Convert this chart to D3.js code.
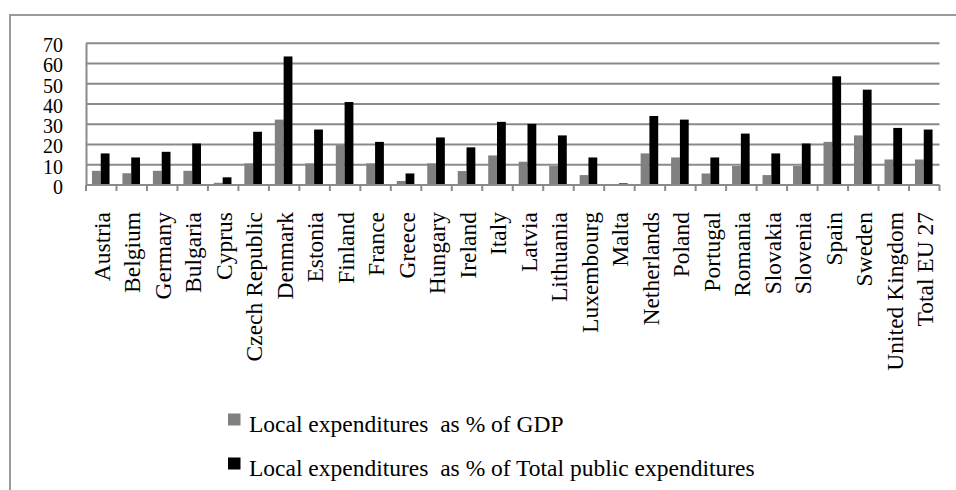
<!DOCTYPE html>
<html>
<head>
<meta charset="utf-8">
<script src="https://cdn.jsdelivr.net/npm/d3@7"></script>
<style>
  html, body { margin: 0; padding: 0; background: #fff; }
  svg { display: block; }
</style>
</head>
<body>
<svg id="chart" width="956" height="490"></svg>
<script>
// Local government spending in the EU member states
const countries = ["Austria", "Belgium", "Germany", "Bulgaria", "Cyprus", "Czech Republic", "Denmark",
  "Estonia", "Finland", "France", "Greece", "Hungary", "Ireland", "Italy", "Latvia", "Lithuania",
  "Luxembourg", "Malta", "Netherlands", "Poland", "Portugal", "Romania", "Slovakia", "Slovenia",
  "Spain", "Sweden", "United Kingdom", "Total EU 27"];
const pctGDP = [7, 5.8, 7, 7, 1.1, 10.7, 32.3, 10.7, 19.7, 10.7, 2, 10.7, 6.9, 14.6, 11.5, 9.4,
  4.9, 0.2, 15.6, 13.6, 5.7, 9.4, 4.9, 9.4, 21.3, 24.5, 12.6, 12.6];
const pctPublic = [15.6, 13.6, 16.4, 20.5, 3.8, 26.3, 63.5, 27.4, 41, 21.3, 5.7, 23.5, 18.6, 31.2,
  30.2, 24.5, 13.6, 0.8, 34.1, 32.3, 13.6, 25.4, 15.6, 20.5, 53.7, 47.1, 28.2, 27.4];
const yTicks = [0, 10, 20, 30, 40, 50, 60, 70];
const seriesNames = ["Local expenditures  as % of GDP", "Local expenditures  as % of Total public expenditures"];
const seriesColors = ["#808080", "#000000"];

const FONT = "'Liberation Serif', 'Times New Roman', serif";
const svg = d3.select("#chart");
const plot = { left: 86, right: 939.5, top: 43.3, bottom: 185 };

// outer chart frame
svg.append("rect")
  .attr("x", 10).attr("y", 15)
  .attr("width", 960).attr("height", 500)
  .attr("fill", "none").attr("stroke", "#9a9a9a").attr("stroke-width", 2);

const x = d3.scaleBand().domain(countries).range([plot.left, plot.right]).paddingInner(0).paddingOuter(0);
const y = d3.scaleLinear().domain([0, 70]).range([plot.bottom, plot.top]);
const barW = 8.8;

// horizontal gridlines
svg.append("g").selectAll("line").data(yTicks.filter(d => d > 0)).join("line")
  .attr("x1", plot.left).attr("x2", plot.right)
  .attr("y1", d => y(d)).attr("y2", d => y(d))
  .attr("stroke", "#8a8a8a").attr("stroke-width", 2);

// y axis
const yAxis = svg.append("g").attr("transform", `translate(${plot.left},0)`)
  .call(d3.axisLeft(y).tickValues(yTicks).tickSize(0).tickPadding(0));
yAxis.attr("font-family", null);
yAxis.select(".domain").attr("stroke", "#8a8a8a").attr("stroke-width", 2);
yAxis.selectAll("text")
  .attr("x", -23).attr("dy", 8.4)
  .attr("font-size", 20).attr("fill", "#000")
  .style("font-family", FONT);

// bars
const groups = svg.append("g").selectAll("g").data(countries).join("g")
  .attr("transform", d => `translate(${x(d) + x.bandwidth() / 2},0)`);
[pctGDP, pctPublic].forEach((vals, s) => {
  groups.append("rect")
    .attr("x", s === 0 ? -barW - 0.5 : -0.5)
    .attr("width", barW)
    .attr("y", (d, i) => y(vals[i]))
    .attr("height", (d, i) => y(0) - y(vals[i]))
    .attr("fill", seriesColors[s]);
});

// x axis with ticks between categories
svg.append("line")
  .attr("x1", plot.left).attr("x2", plot.right)
  .attr("y1", plot.bottom).attr("y2", plot.bottom)
  .attr("stroke", "#8a8a8a").attr("stroke-width", 2);
const bounds = countries.map(c => x(c)).concat([plot.right]);
svg.append("g").selectAll("line").data(bounds).join("line")
  .attr("x1", d => d).attr("x2", d => d)
  .attr("y1", plot.bottom).attr("y2", plot.bottom + 6)
  .attr("stroke", "#8a8a8a").attr("stroke-width", 2);

// rotated category labels
svg.append("g").selectAll("text").data(countries).join("text")
  .attr("transform", d => `translate(${x(d) + x.bandwidth() / 2 + 1},212) rotate(-90)`)
  .attr("text-anchor", "end")
  .attr("dy", "0.33em")
  .attr("font-size", 23.5)
  .attr("fill", "#000")
  .style("font-family", FONT)
  .text(d => d);

// legend
const legend = svg.append("g").selectAll("g").data(seriesNames).join("g")
  .attr("transform", (d, i) => `translate(228,${413.5 + i * 44})`);
legend.append("rect")
  .attr("width", 12.5).attr("height", 12)
  .attr("fill", (d, i) => seriesColors[i]);
legend.append("text")
  .attr("x", 21).attr("y", 18)
  .attr("font-size", 23.5)
  .attr("fill", "#000")
  .style("font-family", FONT)
  .style("white-space", "pre")
  .attr("xml:space", "preserve")
  .text(d => d);
</script>
</body>
</html>
